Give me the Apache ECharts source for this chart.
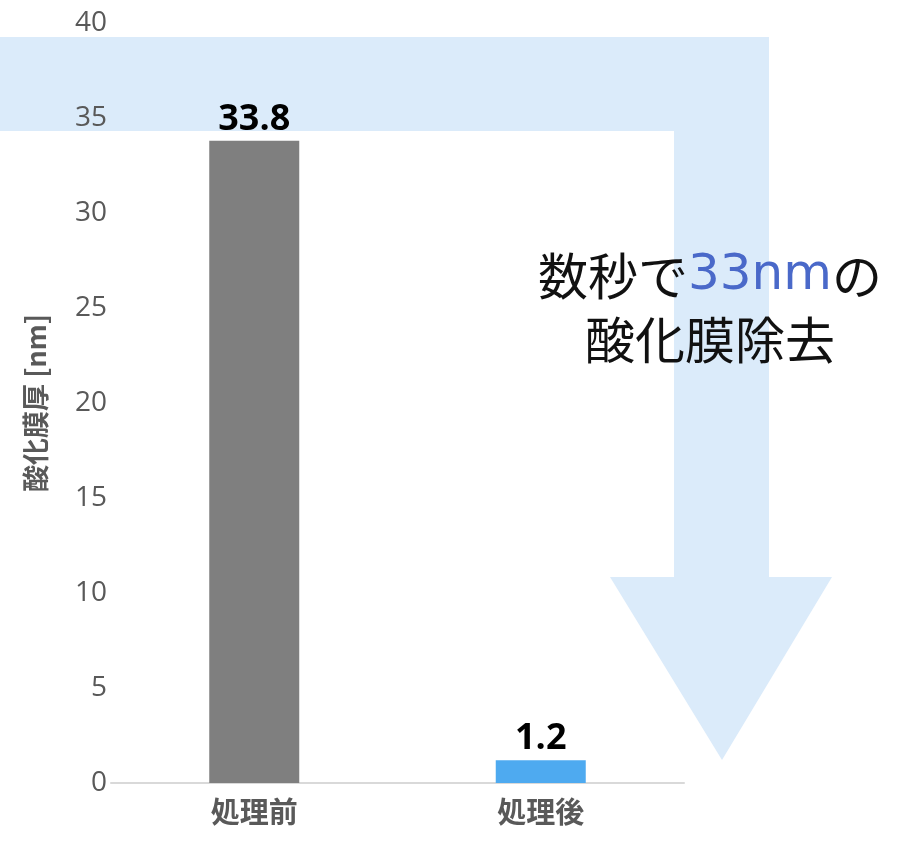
<!DOCTYPE html>
<html><head><meta charset="utf-8">
<script src="https://cdn.jsdelivr.net/npm/echarts@6/dist/echarts.min.js"></script>
<style>html,body{margin:0;padding:0;background:#fff}#c{width:900px;height:854px}</style>
</head><body><div id="c"></div>
<script>
const categories = ['処理前', '処理後'];
const values = [33.8, 1.2];
const barColors = ['#7f7f7f', '#4eaaf0'];
const yTicks = { min: 0, max: 40, interval: 5 };
const yName = '酸化膜厚 [nm]';

const chart = echarts.init(document.getElementById('c'));
const font = '"Noto Sans CJK JP", "Noto Sans", sans-serif';
chart.setOption({
  animation: false,
  backgroundColor: '#fff',
  grid: { left: 111, right: 216, top: 23, bottom: 71, containLabel: false },
  graphic: [
    {
      type: 'polygon', z: -10, silent: true,
      shape: { points: [[0,37],[769,37],[769,577],[832,577],[722,760],[610,577],[674,577],[674,131],[0,131]] },
      style: { fill: '#dbebfa' }
    },
    {
      type: 'text', z: 10, x: 710, y: 244,
      style: {
        text: '{a|数秒で}{b|33nm}{a|の}\n{a|酸化膜除去}',
        align: 'center', verticalAlign: 'top',
        rich: {
          a: { fontFamily: font, fontSize: 50, fill: '#111111', lineHeight: 64 },
          b: { fontFamily: '"DejaVu Sans", sans-serif', fontSize: 50, fill: '#4a69c9', lineHeight: 64 }
        }
      }
    }
  ],
  xAxis: {
    type: 'category', data: categories,
    axisLine: { lineStyle: { color: '#d9d9d9', width: 2 } },
    axisTick: { show: false },
    axisLabel: { fontFamily: font, fontSize: 29, fontWeight: 'bold', color: '#595959', margin: 14 }
  },
  yAxis: {
    type: 'value', min: yTicks.min, max: yTicks.max, interval: yTicks.interval,
    name: yName, nameLocation: 'middle', nameGap: 62, nameRotate: 90,
    nameTextStyle: { fontFamily: font, fontSize: 27, fontWeight: 'bold', color: '#595959' },
    axisLine: { show: false }, axisTick: { show: false }, splitLine: { show: false },
    axisLabel: { fontFamily: '"Open Sans", "Noto Sans", sans-serif', fontSize: 28, color: '#595959', margin: 4 }
  },
  series: [{
    type: 'bar', z: 5, barWidth: 90,
    data: values.map((v, i) => ({ value: v, itemStyle: { color: barColors[i] } })),
    label: { show: true, position: 'top', distance: 3, fontFamily: '"Open Sans", "Noto Sans", sans-serif', fontSize: 36, fontWeight: 'bold', color: '#000' }
  }]
});
</script></body></html>
